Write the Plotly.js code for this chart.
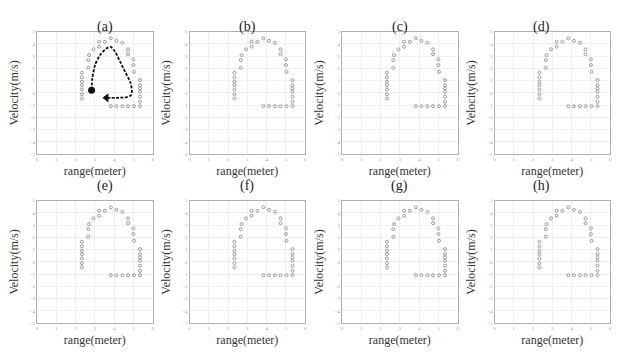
<!DOCTYPE html>
<html>
<head>
<meta charset="utf-8">
<script src="https://cdn.plot.ly/plotly-3.0.1.min.js"></script>
<style>html,body{margin:0;padding:0;background:#fff;}#chart{width:618px;height:352px;}</style>
</head>
<body>
<div id="chart"></div>
<script>
// Panel labels
const panelLabels = ["(a)", "(b)", "(c)", "(d)", "(e)", "(f)", "(g)", "(h)"];
// Scatter points (range in meters, velocity in m/s)
const rangeVals = [2.33, 2.33, 2.33, 2.33, 2.33, 2.33, 2.33, 2.66, 2.66, 2.70, 2.93, 3.22, 3.22, 3.52, 3.83, 4.12, 4.43, 4.72, 4.72, 5.00, 5.00, 5.03, 5.34, 5.34, 5.34, 5.34, 5.34, 5.34, 5.34, 5.03, 4.72, 4.43, 4.12, 3.83];
const velocityVals = [1.65, 1.27, 0.91, 0.64, 0.29, -0.10, -0.45, 2.06, 2.68, 3.09, 3.56, 3.77, 4.18, 4.18, 4.46, 4.26, 4.10, 3.56, 3.17, 2.74, 2.28, 1.73, 1.05, 0.64, 0.37, 0.10, -0.31, -0.72, -1.08, -1.08, -1.08, -1.08, -1.08, -1.08];
// Trajectory arrow in panel (a)
const pathRange = [2.83, 2.87, 3.01, 3.27, 3.61, 3.82, 4.05, 4.31, 4.57, 4.83, 4.92, 4.88, 4.66, 4.13, 3.60];
const pathVelocity = [0.23, 1.19, 2.28, 3.09, 3.64, 3.77, 3.36, 2.55, 1.73, 0.91, 0.23, -0.18, -0.34, -0.40, -0.40];
// Axis ticks
const xTicks = [0, 1, 2, 3, 4, 5, 6];
const yTicks = [-5, -4, -3, -2, -1, 0, 1, 2, 3, 4, 5];

const W = 618, H = 352;
const colLeft = [37, 189.5, 342, 494.5];
const plotW = 115.7;
const rowTop = [31.7, 200.7];
const plotH = 122.5;

const data = [];
const layout = {
  width: W, height: H,
  margin: {l: 0, r: 0, t: 0, b: 0},
  paper_bgcolor: "#fff", plot_bgcolor: "#fff",
  showlegend: false,
  annotations: []
};

for (let i = 0; i < 8; i++) {
  const r = Math.floor(i / 4), c = i % 4;
  const n = i + 1;
  const xa = n === 1 ? "x" : "x" + n;
  const ya = n === 1 ? "y" : "y" + n;
  const xkey = n === 1 ? "xaxis" : "xaxis" + n;
  const ykey = n === 1 ? "yaxis" : "yaxis" + n;
  const axisCommon = {
    showgrid: true, gridcolor: "#efefef", gridwidth: 1,
    showline: true, linecolor: "#b0b0b0", linewidth: 1, mirror: true,
    zeroline: false, ticks: "", tickfont: {size: 5, color: "#999", family: "Liberation Serif"},
    fixedrange: true
  };
  layout[xkey] = Object.assign({}, axisCommon, {
    domain: [colLeft[c] / W, (colLeft[c] + plotW) / W],
    anchor: ya, range: [0, 6], tickvals: xTicks,
    title: {text: "range(meter)", font: {family: "Liberation Serif", size: 12, color: "#333"}, standoff: 5}
  });
  layout[ykey] = Object.assign({}, axisCommon, {
    domain: [1 - (rowTop[r] + plotH) / H, 1 - rowTop[r] / H],
    anchor: xa, range: [-5, 5], tickvals: yTicks,
    title: {text: "Velocity(m/s)", font: {family: "Liberation Serif", size: 12, color: "#333"}, standoff: 8}
  });
  layout.annotations.push({
    text: panelLabels[i], xref: "paper", yref: "paper",
    x: (colLeft[c] + plotW / 2) / W, y: 1 - (rowTop[r] - 15) / H,
    showarrow: false, font: {family: "Liberation Serif", size: 14, color: "#222"}
  });
  data.push({
    type: "scatter", mode: "markers", x: rangeVals, y: velocityVals,
    xaxis: xa, yaxis: ya,
    marker: {symbol: "circle-open", size: 3, color: "#9a9a9a", line: {width: 1}}
  });
}

// trajectory in panel (a)
data.push({
  type: "scatter", mode: "lines", x: pathRange, y: pathVelocity,
  xaxis: "x", yaxis: "y",
  line: {color: "#111", width: 1.8, dash: "3px,1.5px", shape: "spline", smoothing: 0.7}
});
data.push({
  type: "scatter", mode: "markers", x: [pathRange[0]], y: [pathVelocity[0]],
  xaxis: "x", yaxis: "y", marker: {symbol: "circle", size: 7, color: "#111"}
});
data.push({
  type: "scatter", mode: "markers", x: [pathRange[pathRange.length - 1]], y: [pathVelocity[pathVelocity.length - 1]],
  xaxis: "x", yaxis: "y", marker: {symbol: "triangle-left", size: 8, color: "#111"}
});

Plotly.newPlot("chart", data, layout, {staticPlot: true, displayModeBar: false});
</script>
</body>
</html>
